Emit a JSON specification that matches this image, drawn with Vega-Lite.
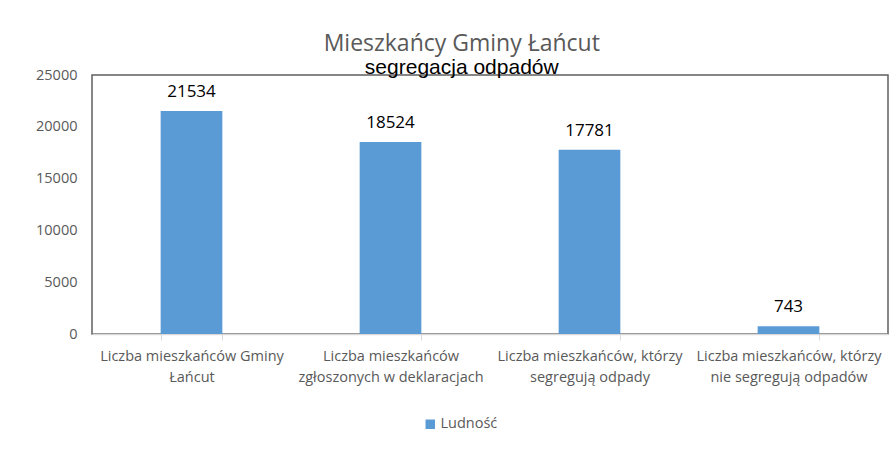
{
  "$schema": "https://vega.github.io/schema/vega-lite/v6.json",
  "width": 796,
  "height": 259,
  "autosize": {"type": "none"},
  "padding": {"left": 92, "top": 75, "right": 6, "bottom": 116},
  "background": "white",
  "config": {
    "view": {"stroke": "#5f5f5f", "strokeWidth": 1.5}
  },
  "title": {
    "text": "Mieszkańcy Gminy Łańcut",
    "subtitle": "segregacja odpadów",
    "anchor": "middle",
    "frame": "bounds",
    "font": "Open Sans",
    "fontSize": 23,
    "fontWeight": "normal",
    "color": "#595959",
    "subtitleFont": "Liberation Sans",
    "subtitleFontSize": 21,
    "subtitleColor": "#000000",
    "subtitlePadding": 1,
    "offset": -11
  },
  "data": {
    "values": [
      {"kategoria": "Liczba mieszkańców Gminy|Łańcut", "wartosc": 21534, "seria": "Ludność"},
      {"kategoria": "Liczba mieszkańców|zgłoszonych w deklaracjach", "wartosc": 18524, "seria": "Ludność"},
      {"kategoria": "Liczba mieszkańców, którzy|segregują odpady", "wartosc": 17781, "seria": "Ludność"},
      {"kategoria": "Liczba mieszkańców, którzy|nie segregują odpadów", "wartosc": 743, "seria": "Ludność"}
    ]
  },
  "encoding": {
    "x": {
      "field": "kategoria",
      "type": "nominal",
      "sort": null,
      "scale": {"paddingInner": 0.69, "paddingOuter": 0.345},
      "axis": {
        "title": null,
        "labelAngle": 0,
        "labelExpr": "split(datum.label, '|')",
        "labelFont": "Open Sans",
        "labelFontSize": 14.5,
        "labelColor": "#595959",
        "labelLineHeight": 21,
        "labelPadding": 9,
        "labelLimit": 250,
        "domainColor": "#d9d9d9",
        "domainWidth": 1.5,
        "tickColor": "#d9d9d9",
        "tickSize": 6,
        "tickBand": "extent"
      }
    },
    "y": {
      "field": "wartosc",
      "type": "quantitative",
      "scale": {"domain": [0, 25000], "nice": false},
      "axis": {
        "title": null,
        "values": [0, 5000, 10000, 15000, 20000, 25000],
        "format": "d",
        "grid": false,
        "ticks": false,
        "domain": false,
        "labelFont": "Open Sans",
        "labelFontSize": 14.5,
        "labelColor": "#595959",
        "labelPadding": 15
      }
    }
  },
  "layer": [
    {
      "mark": {"type": "bar"},
      "encoding": {
        "color": {
          "field": "seria",
          "type": "nominal",
          "scale": {"range": ["#5B9BD5"]},
          "legend": {
            "title": null,
            "orient": "none",
            "legendX": 331,
            "legendY": 342,
            "symbolType": "square",
            "symbolSize": 90,
            "symbolStrokeWidth": 0,
            "labelFont": "Open Sans",
            "labelFontSize": 14.5,
            "labelColor": "#595959",
            "labelOffset": 3
          }
        }
      }
    },
    {
      "mark": {"type": "text", "dy": -19, "font": "Open Sans", "fontSize": 17, "color": "#000000"},
      "encoding": {
        "text": {"field": "wartosc", "type": "quantitative", "format": "d"}
      }
    }
  ]
}
